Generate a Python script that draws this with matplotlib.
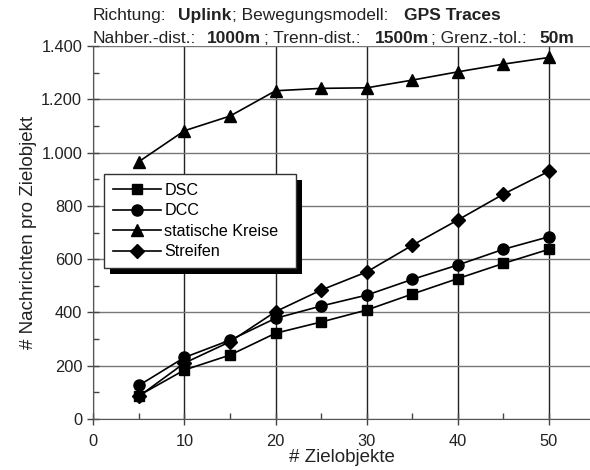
import matplotlib
matplotlib.use("Agg")
import matplotlib.pyplot as plt
from matplotlib.patches import Rectangle
from matplotlib.ticker import MultipleLocator, FuncFormatter

plt.rcParams['font.family'] = ['Liberation Sans', 'DejaVu Sans']

# Data
ziele = [5, 10, 15, 20, 25, 30, 35, 40, 45, 50]
dsc = [88, 184, 240, 322, 364, 409, 469, 527, 584, 637]
dcc = [126, 231, 296, 378, 424, 465, 524, 578, 637, 684]
kreise = [966, 1082, 1137, 1232, 1241, 1243, 1272, 1303, 1332, 1357]
streifen = [85, 210, 290, 403, 484, 552, 652, 747, 844, 930]

series = [("DSC", dsc, "s", 7.5),
          ("DCC", dcc, "o", 8),
          ("statische Kreise", kreise, "^", 9),
          ("Streifen", streifen, "D", 7.5)]

fig = plt.figure(figsize=(5.9, 4.7), dpi=100)
ax = fig.add_axes([93.3 / 590, 1 - 419 / 470, 1 - 93.3 / 590, (419 - 46) / 470])

for name, vals, mk, ms in series:
    ax.plot(ziele, vals, color='black', lw=1.2, marker=mk, ms=ms,
            label=name, zorder=3)

ax.set_xlim(0, 54.5)
ax.set_ylim(0, 1400)
ax.xaxis.set_major_locator(MultipleLocator(10))
ax.xaxis.set_minor_locator(MultipleLocator(5))
ax.yaxis.set_major_locator(MultipleLocator(200))
ax.yaxis.set_minor_locator(MultipleLocator(100))
ax.yaxis.set_major_formatter(FuncFormatter(lambda v, p: f"{int(v):,}".replace(",", ".")))

ax.spines['top'].set_visible(False)
ax.spines['right'].set_visible(False)
ax.spines['left'].set_color('#555555')
ax.spines['bottom'].set_color('#555555')

ax.tick_params(which='major', direction='inout', length=8, width=1, labelsize=11.8,
               color='#444444', labelcolor='#222222')
ax.tick_params(which='minor', direction='in', length=4, width=1, color='#444444')
ax.tick_params(axis='x', pad=7)
ax.tick_params(axis='y', pad=4)

ax.xaxis.grid(True, which='major', color='#222222', lw=1)
ax.yaxis.grid(True, which='major', color='#777777', lw=1)
ax.set_axisbelow(True)

ax.set_xlabel('# Zielobjekte', fontsize=13.5, labelpad=0, color='#222222')
ax.set_ylabel('# Nachrichten pro Zielobjekt', fontsize=13.5, labelpad=3, color='#222222')

handles, labels = ax.get_legend_handles_labels()
labels = [lab + '  ' if lab == 'statische Kreise' else lab for lab in labels]
leg = ax.legend(handles, labels, loc='upper left',
                bbox_to_anchor=(104 / 590, 1 - 174 / 470),
                bbox_transform=fig.transFigure, borderaxespad=0,
                fancybox=False, framealpha=1, edgecolor='#333333',
                fontsize=11.6, handlelength=3.0, labelspacing=0.34,
                handletextpad=0.2, borderpad=0.55)
leg.get_frame().set_linewidth(1)
leg.set_zorder(10)

# black drop shadow behind the legend box
fig.canvas.draw()
bb = leg.get_window_extent()
shadow = Rectangle((bb.x0 + 6, bb.y0 - 6), bb.width, bb.height, transform=None,
                   facecolor='black', edgecolor='none', zorder=9)
ax.add_artist(shadow)
shadow.set_clip_on(False)

# two-line title with bold values, pieces chained one after another
tfs = 12.5
def title_line(y, parts):
    prev = fig.text(93 / 590, 1 - y / 470, parts[0][0], fontsize=tfs,
                    fontweight='bold' if parts[0][1] else 'normal', color='#222222')
    for s, bold, gap in parts[1:]:
        prev = ax.annotate(s, xy=(1, 0), xycoords=prev, xytext=(gap, 0),
                           textcoords='offset pixels', fontsize=tfs,
                           fontweight='bold' if bold else 'normal',
                           color='#222222', va='bottom', annotation_clip=False)

title_line(20, [('Richtung:', False),
                ('Uplink', True, 11),
                ('; Bewegungsmodell:', False, 1),
                ('GPS Traces', True, 15)])
title_line(43, [('Nahber.-dist.:', False),
                ('1000m', True, 11),
                ('; Trenn-dist.:', False, 2),
                ('1500m', True, 15),
                ('; Grenz.-tol.:', False, 2),
                ('50m', True, 12)])

fig.savefig('out.png', dpi=100)
